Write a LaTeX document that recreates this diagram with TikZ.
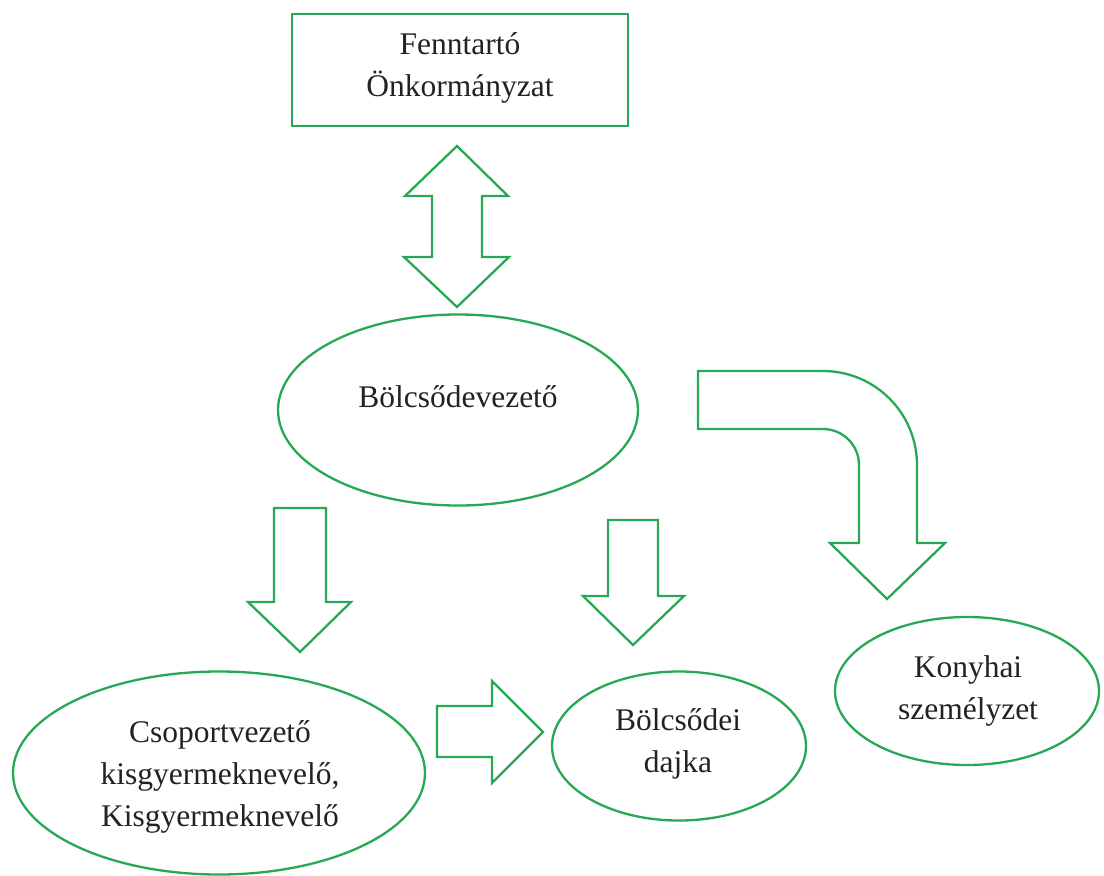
\documentclass[tikz,border=0pt]{standalone}
\usepackage{fontspec}
\setmainfont{Liberation Serif}
\usetikzlibrary{shapes.geometric}
\definecolor{gr}{RGB}{38,168,84}
\definecolor{tx}{RGB}{34,34,34}
\tikzset{
  outl/.style={draw=gr, line width=2.3pt, line join=miter},
  oval/.style={ellipse, draw=gr, line width=2.3pt, inner sep=0pt},
  lbl/.style={text=tx, align=center, inner sep=0pt, font=\fontsize{31.5}{42}\selectfont},
  blockarrow/.style={draw=gr, line width=2.3pt, line join=miter},
}
\begin{document}
\begin{tikzpicture}[x=1pt,y=-1pt]
\useasboundingbox (0,0) rectangle (1104,876);
% boxes
\node[outl, rectangle, minimum width=336pt, minimum height=112pt, inner sep=0pt] (fo) at (460,70) {};
\node[lbl] (fot) at (460,68) {Fenntartó\\Önkormányzat};
\node[oval, minimum width=360pt, minimum height=191pt] (bv) at (458,410) {};
\node[lbl] (bvt) at (458,397) {Bölcsődevezető};
\node[oval, minimum width=412pt, minimum height=203pt] (cs) at (219,773) {};
\node[lbl] (cst) at (220,777) {Csoportvezető\\kisgyermeknevelő,\\Kisgyermeknevelő};
\node[oval, minimum width=254pt, minimum height=149pt] (dj) at (679,746) {};
\node[lbl] (djt) at (678,744) {Bölcsődei\\dajka};
\node[oval, minimum width=264pt, minimum height=148pt] (ko) at (967,691) {};
\node[lbl] (kot) at (968,691) {Konyhai\\személyzet};
% double arrow
\draw[blockarrow] (457,146) -- (508,196) -- (482,196) -- (482,257) -- (509,257) -- (457,307)
  -- (404,257) -- (432,257) -- (432,196) -- (405,196) -- cycle;
% left down arrow
\draw[blockarrow] (274,508) -- (326,508) -- (326,602) -- (351,602) -- (300,652) -- (248,602) -- (274,602) -- cycle;
% middle down arrow
\draw[blockarrow] (608,520) -- (658,520) -- (658,596) -- (684,596) -- (633,645) -- (583,596) -- (608,596) -- cycle;
% right arrow
\draw[blockarrow] (437,706) -- (492,706) -- (492,681) -- (543,732) -- (492,783) -- (492,757) -- (437,757) -- cycle;
% curved arrow
\draw[blockarrow] (698,371) -- (823,371) arc[start angle=90, end angle=0, radius=94pt] -- (917,543) -- (945,543)
  -- (887,599) -- (830,543) -- (859,543) -- (859,465) arc[start angle=0, end angle=90, radius=36pt] -- (698,429) -- cycle;
\end{tikzpicture}
\end{document}
